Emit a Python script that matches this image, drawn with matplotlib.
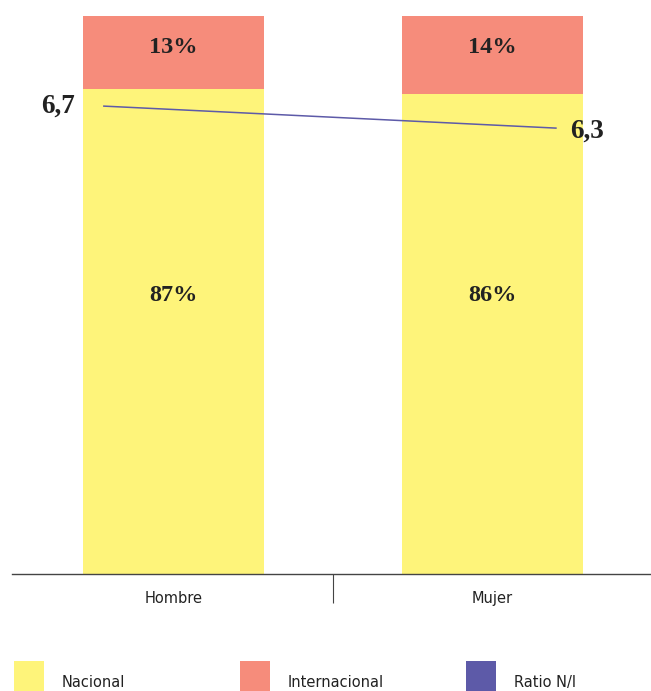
import numpy as np
import matplotlib.pyplot as plt
from matplotlib.patches import Rectangle

# data
categorias = ['Hombre', 'Mujer']
nacional = [87, 86]
internacional = [13, 14]
ratio_ni = [6.7, 6.3]
ratio_txt = ['6,7', '6,3']

col_nac = '#FEF47A'
col_int = '#F68C7B'
col_ratio = '#5D5AA8'

W, H = 651, 691
fig = plt.figure(figsize=(W / 100, H / 100), dpi=100)
ax = fig.add_axes([12 / W, (H - 574) / H, (W - 12) / W, 574 / H])

x = np.arange(len(categorias))
ax.bar(x, nacional, width=0.567, color=col_nac)
ax.bar(x, internacional, width=0.567, bottom=nacional, color=col_int)

ax.set_xlim(-0.506, 1.497)
ax.set_ylim(0, 102.9)

serif = dict(family='Liberation Serif', fontweight='bold', fontsize=17.5, color='#222222')
for i in range(len(categorias)):
    total = nacional[i] + internacional[i]
    ax.text(x[i], total / 2, f'{nacional[i]}%', ha='center', va='center', **serif)
    ax.text(x[i], total - 5.6, f'{internacional[i]}%', ha='center', va='center', **serif)

for s in ['top', 'right', 'left']:
    ax.spines[s].set_visible(False)
ax.spines['bottom'].set_color('#444444')
ax.spines['bottom'].set_linewidth(1.0)
ax.set_yticks([])
ax.set_xticks(x)
ax.set_xticklabels(categorias, fontsize=10.5, color='#222222', family='DejaVu Sans')
ax.tick_params(axis='x', which='major', length=0, pad=12)
ax.set_xticks([0.5], minor=True)
ax.tick_params(axis='x', which='minor', length=21, width=0.8, color='#444444')

# ratio line on a second axis
ax2 = ax.twinx()
ax2.set_ylim(-1.81, 8.63)
ax2.axis('off')
xr = [x[0] - 0.218, x[1] + 0.199]
ax2.plot(xr, ratio_ni, color=col_ratio, linewidth=1.1)
ratio_font = dict(serif, fontsize=19.5)
ax2.text(xr[0] - 0.09, ratio_ni[0], ratio_txt[0], ha='right', va='center', **ratio_font)
ax2.text(xr[1] + 0.045, ratio_ni[1] - 0.05, ratio_txt[1], ha='left', va='center', **ratio_font)

# legend
leyenda = ['Nacional', 'Internacional', 'Ratio N/I']
colores = [col_nac, col_int, col_ratio]
for k, (lab, c) in enumerate(zip(leyenda, colores)):
    x0 = 14 + k * 226
    fig.add_artist(Rectangle((x0 / W, 0), 30 / W, 30 / H, transform=fig.transFigure,
                             color=c, lw=0))
    fig.text((x0 + 48) / W, 4 / H, lab, ha='left', va='baseline', fontsize=10.5,
             color='#222222')

fig.savefig('out.png', dpi=100)
